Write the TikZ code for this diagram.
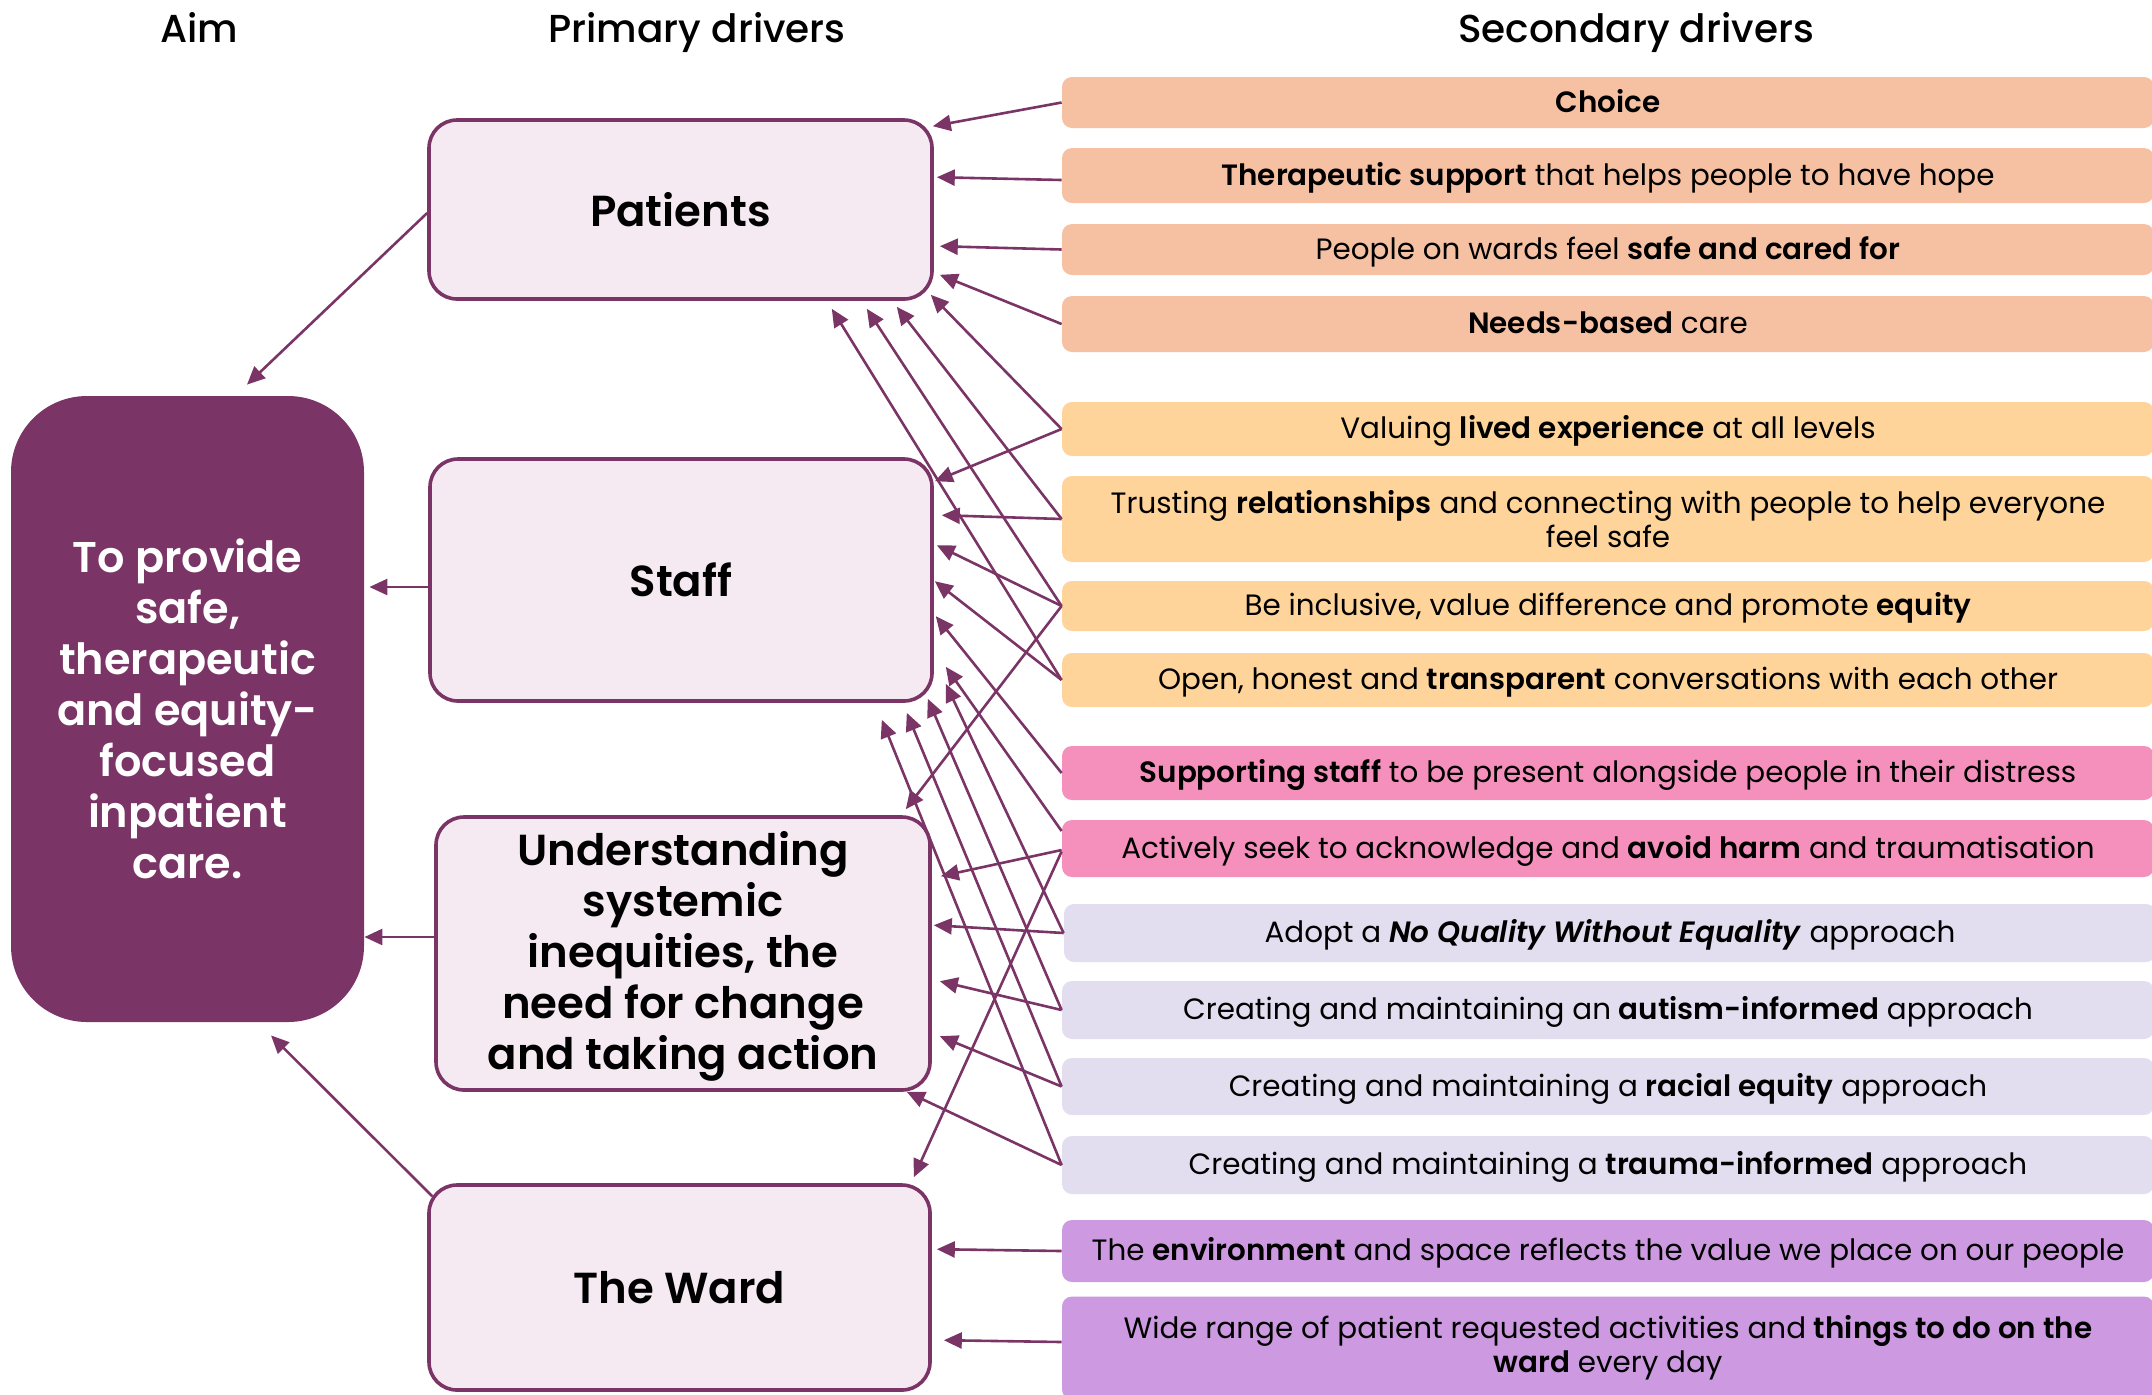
\documentclass[tikz,border=0pt]{standalone}
\usepackage{fontspec}
\setmainfont{Poppins}[BoldFont={Poppins SemiBold},BoldItalicFont={Poppins SemiBold Italic}]
\newfontfamily\mediumfont{Poppins Medium}
\usetikzlibrary{arrows.meta,calc}

\definecolor{plum}{HTML}{7B3466}
\definecolor{primfill}{HTML}{F5EAF2}
\definecolor{peach}{HTML}{F6C1A2}
\definecolor{apricot}{HTML}{FED49B}
\definecolor{rosepink}{HTML}{F590BC}
\definecolor{lilac}{HTML}{E2DEEF}
\definecolor{violet}{HTML}{CD9AE2}

\begin{document}
\begin{tikzpicture}[x=0.5pt,y=-0.5pt,
  link/.style={draw=plum, line width=1.3pt, -{Triangle[length=9pt,width=8pt]}},
  primary/.style={draw=plum, line width=1.8pt, fill=primfill, rounded corners=14pt,
    align=center, inner sep=0pt, font=\fontsize{21.7}{25.5}\selectfont\bfseries},
  aimbox/.style={fill=plum, rounded corners=38pt, align=center, inner sep=0pt,
    text=white, font=\fontsize{21.5}{25.5}\selectfont\bfseries},
  secondary/.style={rounded corners=5pt, minimum width=546pt, inner sep=0pt,
    text height=10pt, text depth=0.5pt, font=\fontsize{14.7}{17}\selectfont},
  twoline/.style={secondary, align=center, text height=, text depth=},
  header/.style={inner sep=0pt, text height=13.7pt, text depth=0pt,
    font=\fontsize{19.5}{22}\selectfont\mediumfont}
]
\useasboundingbox (0,0) rectangle (2152,1394);

% column headings
\node[header] (haim) at (199,29) {Aim};
\node[header] (hprim) at (697,29) {Primary drivers};
\node[header] (hsec) at (1636,29) {Secondary drivers};

% aim
\node[aimbox, minimum width=176.5pt, minimum height=313pt] (aim) at (187.5,709)
  {To provide\\safe,\\therapeutic\\and equity-\\focused\\inpatient\\care.};

% primary drivers
\node[primary, minimum width=251.5pt, minimum height=89.5pt] (patients) at (680.5,209.5) {Patients};
\node[primary, minimum width=251pt, minimum height=121pt] (staff) at (681,580) {Staff};
\node[primary, minimum width=247pt, minimum height=136.5pt] (underst) at (683,953.5)
  {\rule{0pt}{20pt}Understanding\\systemic\\inequities, the\\need for change\\and taking action};
\node[primary, minimum width=250.5pt, minimum height=102.5pt] (ward) at (679.5,1287.5) {The Ward};

% secondary drivers
\node[secondary, fill=peach, minimum height=25.5pt] (choice) at (1608,102.5) {\textbf{Choice}};
\node[secondary, fill=peach, minimum height=27.5pt] (thera) at (1608,175.5) {\textbf{Therapeutic support} that helps people to have hope};
\node[secondary, fill=peach, minimum height=25.5pt] (people) at (1608,249.5) {People on wards feel \textbf{safe and cared for}};
\node[secondary, fill=peach, minimum height=28pt] (needs) at (1608,324) {\textbf{Needs-based} care};

\node[secondary, fill=apricot, minimum height=27pt] (valuing) at (1608,429) {Valuing \textbf{lived experience} at all levels};
\node[twoline, fill=apricot, minimum height=43pt] (trusting) at (1608,519) {Trusting \textbf{relationships} and connecting with people to help everyone\\feel safe};
\node[secondary, fill=apricot, minimum height=25pt] (inclusive) at (1608,606) {Be inclusive, value difference and promote \textbf{equity}};
\node[secondary, fill=apricot, minimum height=27pt] (open) at (1608,680) {Open, honest and \textbf{transparent} conversations with each other};

\node[secondary, fill=rosepink, minimum height=27pt] (supporting) at (1608,773) {\textbf{Supporting staff} to be present alongside people in their distress};
\node[secondary, fill=rosepink, minimum height=28.5pt] (actively) at (1608,848.5) {Actively seek to acknowledge and \textbf{avoid harm} and traumatisation};

\node[secondary, fill=lilac, minimum height=29pt] (adopt) at (1610,933) {Adopt a \textbf{\textit{No Quality Without Equality}} approach};
\node[secondary, fill=lilac, minimum height=29pt] (autism) at (1608,1010) {Creating and maintaining an \textbf{autism-informed} approach};
\node[secondary, fill=lilac, minimum height=28.5pt] (racial) at (1608,1086.5) {Creating and maintaining a \textbf{racial equity} approach};
\node[secondary, fill=lilac, minimum height=29pt] (trauma) at (1608,1165) {Creating and maintaining a \textbf{trauma-informed} approach};

\node[secondary, fill=violet, minimum height=31pt] (environ) at (1608,1251) {The \textbf{environment} and space reflects the value we place on our people};
\node[twoline, fill=violet, minimum height=51.5pt] (wide) at (1608,1348) {Wide range of patient requested activities and \textbf{things to do on the}\\\textbf{ward} every day};

% primary drivers feed the aim
\draw[link] ($(patients.west)+(0,3.5)$) -- ($(aim.north)+(59.5,-11)$);
\draw[link, shorten >=2.5pt] ($(staff.west)+(0,7)$) coordinate (sa) -- (aim.east |- sa);
\draw[link] ($(underst.west)+(0,-16.5)$) coordinate (ua) -- (aim.east |- ua);
\draw[link] ($(ward.north west)+(5,13)$) -- ($(aim.south)+(83.5,13)$);

% secondary drivers -> patients
\draw[link] (choice.west) -- ($(patients.north east)+(-1,8)$);
\draw[link] ($(thera.west)+(0,4.5)$) -- ($(patients.north east)+(3,59)$);
\draw[link] (people.west) -- ($(patients.north east)+(6,128)$);
\draw[link] (needs.west) -- ($(patients.south east)+(6,-26)$);
\draw[link] (valuing.west) -- ($(patients.south east)+(-3,-6)$);
\draw[link] (trusting.west) -- ($(patients.south east)+(-37,6)$);
\draw[link] (inclusive.west) -- ($(patients.south east)+(-67,8)$);
\draw[link] (open.west) -- ($(patients.south east)+(-102,8)$);

% secondary drivers -> staff
\draw[link] (valuing.west) -- ($(staff.north east)+(1,24)$);
\draw[link] (trusting.west) -- ($(staff.north east)+(8,58)$);
\draw[link] (inclusive.west) -- ($(staff.north east)+(3,88)$);
\draw[link] (open.west) -- ($(staff.north east)+(1,124)$);
\draw[link] (supporting.west) -- ($(staff.north east)+(2,159)$);
\draw[link] ($(actively.west)+(0,-17.5)$) -- ($(staff.south east)+(12,-36)$);
\draw[link] (adopt.west) -- ($(staff.south east)+(12,-19)$);
\draw[link] (autism.west) -- ($(staff.south east)+(-6,-4)$);
\draw[link] (racial.west) -- ($(staff.south east)+(-27,10)$);
\draw[link] (trauma.west) -- ($(staff.south east)+(-52,17)$);

% secondary drivers -> understanding
\draw[link] (inclusive.west) -- ($(underst.north east)+(-26,-6)$);
\draw[link] ($(actively.west)+(0,1.5)$) -- ($(underst.north east)+(9,61)$);
\draw[link] (adopt.west) -- ($(underst.north east)+(2,110)$);
\draw[link] (autism.west) -- ($(underst.north east)+(8,166)$);
\draw[link] (racial.west) -- ($(underst.north east)+(8,221)$);
\draw[link] (trauma.west) -- ($(underst.south east)+(-25,0)$);

% secondary drivers -> the ward
\draw[link] ($(actively.west)+(0,3)$) -- ($(ward.north east)+(-18,-6)$);
\draw[link] (environ.west) -- ($(ward.north east)+(5,66)$);
\draw[link] ($(wide.west)+(0,-6)$) -- ($(ward.north east)+(12,157)$);
\end{tikzpicture}
\end{document}
